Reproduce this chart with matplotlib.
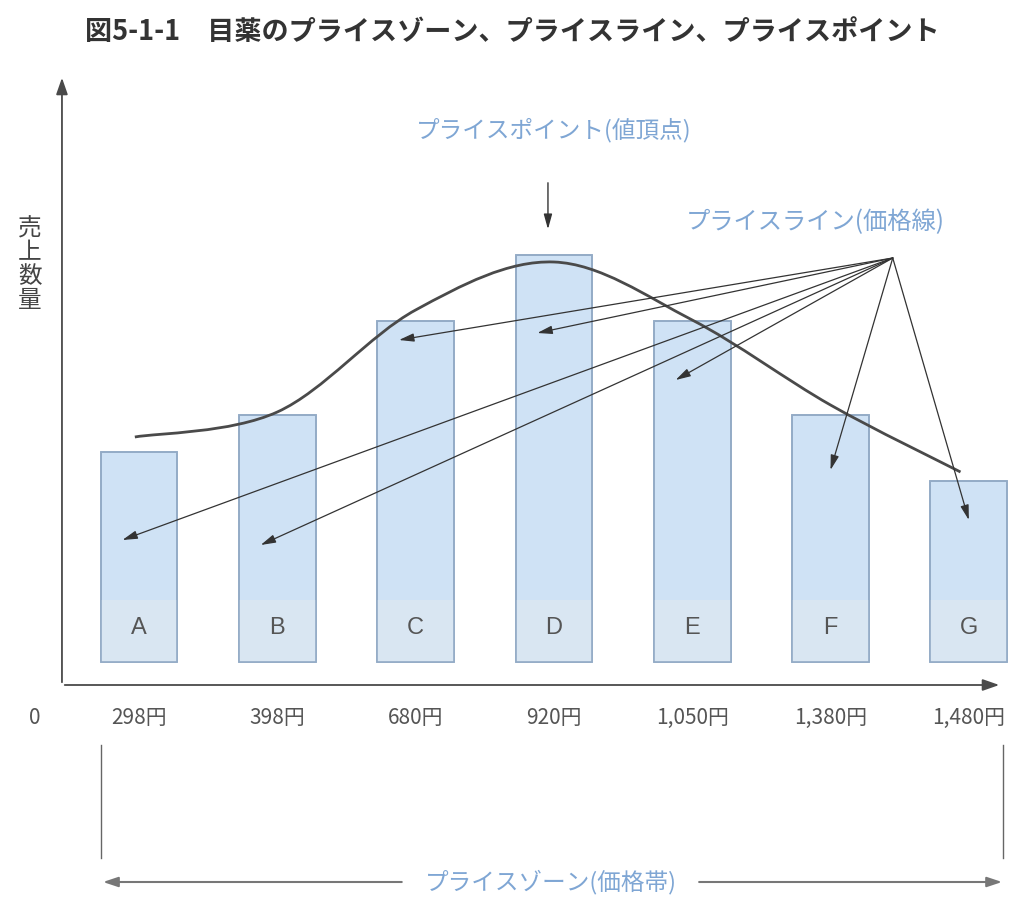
import matplotlib.pyplot as plt
import numpy as np
from matplotlib.path import Path
from matplotlib.patches import PathPatch

plt.rcParams["font.family"] = ["Noto Sans CJK JP", "DejaVu Sans"]

# data
labels = ["A", "B", "C", "D", "E", "F", "G"]
prices = ["298円", "398円", "680円", "920円", "1,050円", "1,380円", "1,480円"]
sales = [21.0, 24.7, 34.1, 40.7, 34.1, 24.7, 18.1]
curve = [24.8, 27.3, 37.5, 42.3, 36.5, 28.0, 21.3]
line_targets = [(0, 14.5), (1, 14.0), (2, 34.5), (3, 35.2), (4, 30.5), (5, 21.5), (6, 16.5)]

title = "図5-1-1　目薬のプライスゾーン、プライスライン、プライスポイント"
ylabel = "売上数量"

blue_text = "#7fa6d4"
dark = "#333333"

fig = plt.figure(figsize=(10.24, 9.01), dpi=100, facecolor="white")
ax = fig.add_axes([0, 0, 1, 1])
ax.set_xlim(-1.005, 6.399)
ax.set_ylim(-21.6, 68.5)
ax.axis("off")

x = np.arange(len(labels))
base = 2.3

# bars
ax.bar(x, sales, width=0.555, bottom=base, color="#cfe2f5", edgecolor="#93abc6", linewidth=1.2, zorder=2)
ax.bar(x, 6.2, width=0.555, bottom=base, color="#d9e6f2", edgecolor="none", zorder=2.5)
ax.bar(x, sales, width=0.555, bottom=base, color="none", edgecolor="#93abc6", linewidth=1.2, zorder=2.6)
for xi, lab in zip(x, labels):
    ax.text(xi, 5.7, lab, ha="center", va="center", fontsize=17, color="#555555",
            family="Liberation Sans", zorder=3)

# smooth curve (Catmull-Rom -> Bezier)
pts = np.column_stack([x, curve]).astype(float)
pts[0, 0] -= 0.03
pts[-1, 0] -= 0.06
verts = [tuple(pts[0])]
codes = [Path.MOVETO]
for i in range(len(pts) - 1):
    p0 = pts[i - 1] if i > 0 else pts[i]
    p1, p2 = pts[i], pts[i + 1]
    p3 = pts[i + 2] if i + 2 < len(pts) else pts[i + 1]
    c1 = p1 + (p2 - p0) / 6
    c2 = p2 - (p3 - p1) / 6
    verts += [tuple(c1), tuple(c2), tuple(p2)]
    codes += [Path.CURVE4] * 3
ax.add_patch(PathPatch(Path(verts, codes), fc="none", ec="#4a4a4a", lw=2.0, zorder=4))

# axes arrows
ax.annotate("", xy=(6.24, 0), xytext=(-0.557, 0),
            arrowprops=dict(arrowstyle="-|>,head_length=1.0,head_width=0.35", color="#4a4a4a", lw=1.3))
ax.annotate("", xy=(-0.557, 61.0), xytext=(-0.557, 0),
            arrowprops=dict(arrowstyle="-|>,head_length=1.0,head_width=0.35", color="#4a4a4a", lw=1.3))

# price tick labels
ax.text(-0.752, -3.3, "0", ha="center", va="center", fontsize=15, color="#555555")
for xi, p in zip(x, prices):
    ax.text(xi, -3.3, p, ha="center", va="center", fontsize=15, color="#555555")

# y label (vertical stacked)
ax.text(-0.79, 42.0, "\n".join(ylabel), ha="center", va="center", fontsize=17,
        color="#444444", linespacing=1.05)

# title
fig.text(0.5, 0.965, title, ha="center", va="center", fontsize=19.5, fontweight="bold", color="#333333")

# price point
ax.text(3.0, 55.5, "プライスポイント(値頂点)", ha="center", va="center", fontsize=17, color=blue_text)
ax.annotate("", xy=(2.957, 45.3), xytext=(2.957, 50.5),
            arrowprops=dict(arrowstyle="-|>,head_length=0.9,head_width=0.25", color=dark, lw=1.0))

# price lines
ax.text(4.89, 46.3, "プライスライン(価格線)", ha="center", va="center", fontsize=17.5, color=blue_text)
origin = (5.45, 42.7)
for tx, ty in line_targets:
    xt = tx - 0.12 if tx < 5 else tx
    ax.annotate("", xy=(xt, ty), xytext=origin,
                arrowprops=dict(arrowstyle="-|>,head_length=0.9,head_width=0.25", color=dark, lw=0.9,
                                shrinkA=0, shrinkB=0), zorder=5)

# price zone
ax.plot([-0.275, -0.275], [-6.0, -17.3], color="#666666", lw=1.0)
ax.plot([6.245, 6.245], [-6.0, -17.3], color="#666666", lw=1.0)
ax.annotate("", xy=(-0.26, -19.7), xytext=(1.9, -19.7),
            arrowprops=dict(arrowstyle="-|>,head_length=0.9,head_width=0.3", color="#777777", lw=1.5,
                            shrinkA=0, shrinkB=0))
ax.annotate("", xy=(6.24, -19.7), xytext=(4.05, -19.7),
            arrowprops=dict(arrowstyle="-|>,head_length=0.9,head_width=0.3", color="#777777", lw=1.5,
                            shrinkA=0, shrinkB=0))
ax.text(2.98, -19.7, "プライスゾーン(価格帯)", ha="center", va="center", fontsize=17, color=blue_text)

plt.savefig("out.png", dpi=100, facecolor="white")
